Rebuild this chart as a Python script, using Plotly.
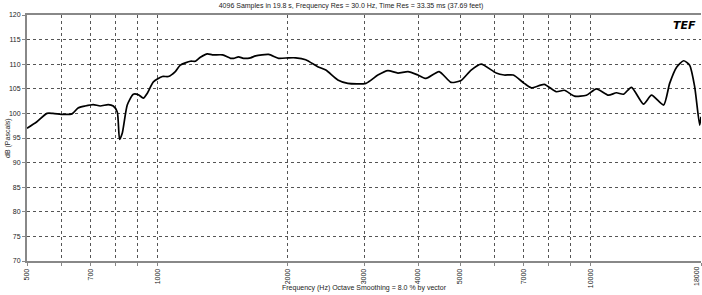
import plotly.graph_objects as go

freq_hz = [500, 527, 556, 574, 606, 635, 656, 681, 711, 738, 770, 791, 808, 818, 830, 852,
           880, 904, 928, 948, 979, 1027, 1060, 1100, 1130, 1192, 1224, 1257, 1305, 1340,
           1414, 1476, 1500, 1540, 1581, 1641, 1686, 1807, 1905, 2010, 2086, 2200, 2346,
           2449, 2610, 2753, 3030, 3230, 3406, 3593, 3790, 3997, 4171, 4472, 4766, 5027,
           5303, 5593, 6058, 6322, 6633, 7034, 7302, 7822, 8340, 8704, 9181, 9787, 10322,
           11003, 11481, 11918, 12437, 13260, 13837, 14756, 15236, 15811, 16413, 16945,
           17406, 17875, 18000]
level_db = [97.0, 98.3, 100.0, 100.0, 99.8, 99.9, 101.1, 101.5, 101.8, 101.5, 101.8, 101.5,
            100.3, 94.7, 96.0, 101.7, 103.9, 103.8, 103.1, 104.1, 106.4, 107.5, 107.5, 108.5,
            109.8, 110.6, 110.6, 111.4, 112.1, 111.9, 111.9, 111.2, 111.2, 111.5, 111.2,
            111.3, 111.7, 112.0, 111.2, 111.3, 111.3, 110.9, 109.5, 108.8, 106.8, 106.1,
            106.1, 107.8, 108.7, 108.2, 108.5, 107.8, 107.1, 108.5, 106.3, 106.7, 108.8,
            110.0, 108.2, 107.8, 107.8, 106.1, 105.2, 105.9, 104.4, 104.7, 103.5, 103.7,
            105.0, 103.7, 104.2, 103.9, 105.3, 101.9, 103.7, 101.7, 106.1, 109.4, 110.7,
            109.8, 105.4, 97.6, 99.3]

x_tick_vals = [500, 600, 700, 800, 900, 1000, 2000, 3000, 4000, 5000, 6000, 7000, 8000,
               9000, 10000, 18000]
x_tick_text = ["500", "", "700", "", "", "1000", "2000", "3000", "4000", "5000", "", "7000",
               "", "", "10000", "18000"]
y_tick_vals = [70, 75, 80, 85, 90, 95, 100, 105, 110, 115, 120]

title_text = "4096 Samples in 19.8 s, Frequency Res = 30.0 Hz, Time Res = 33.35 ms (37.69 feet)"
x_title = "Frequency (Hz) Octave Smoothing = 8.0 % by vector"
y_title = "dB (Pascals)"

FONT = "Liberation Sans, Arial, sans-serif"
TXT = "#222222"

fig = go.Figure()
fig.add_trace(go.Scatter(
    x=freq_hz, y=level_db, mode="lines",
    line=dict(color="#000000", width=1.7, shape="spline", smoothing=0.6),
    hoverinfo="skip", showlegend=False,
))

fig.update_layout(
    width=702, height=295,
    margin=dict(l=27, r=1, t=15, b=34, autoexpand=False),
    paper_bgcolor="white", plot_bgcolor="white",
    font=dict(family=FONT, size=7, color=TXT),
    title=dict(text=title_text, x=0.5, xanchor="center", y=0.99, yanchor="top",
               font=dict(family=FONT, size=7, color=TXT)),
    annotations=[
        dict(text=x_title, xref="paper", yref="paper", x=0.5, y=0, xanchor="center",
             yanchor="top", yshift=-21, showarrow=False,
             font=dict(family=FONT, size=7, color=TXT)),
        dict(text=y_title, xref="paper", yref="paper", x=0, y=0.5, xanchor="center",
             yanchor="middle", xshift=-19, textangle=-90, showarrow=False,
             font=dict(family=FONT, size=7, color=TXT)),
        dict(text="<b><i>TEF</i></b>", xref="paper", yref="paper", x=0.995, y=0.99,
             xanchor="right", yanchor="top", showarrow=False,
             font=dict(family="DejaVu Sans, sans-serif", size=11, color="#000000")),
        dict(text=x_tick_text[-1], x=4.25527, xref="x", yref="paper", y=0,
             xanchor="center", yanchor="top", yshift=-3, xshift=-5, textangle=-90,
             showarrow=False, font=dict(family=FONT, size=7, color=TXT)),
    ],
)

fig.update_xaxes(
    type="log", range=[2.69897, 4.25527], automargin=False,
    tickmode="array", tickvals=x_tick_vals, ticktext=x_tick_text, tickangle=-90,
    ticks="outside", ticklen=3, tickcolor="#888888",
    showgrid=True, gridcolor="#555555", griddash="dot", gridwidth=1,
    showline=True, linecolor="#888888", linewidth=2, mirror=True,
    zeroline=False, tickfont=dict(family=FONT, size=7, color=TXT),
)
fig.update_yaxes(
    range=[70, 120], tickmode="array", tickvals=y_tick_vals, automargin=False,
    ticks="outside", ticklen=3, tickcolor="#888888",
    showgrid=True, gridcolor="#555555", griddash="dot", gridwidth=1,
    showline=True, linecolor="#888888", linewidth=2,
    zeroline=False, tickfont=dict(family=FONT, size=7, color=TXT),
)

fig.write_html("out.html", config={"displayModeBar": False},
               post_script="document.body.style.margin='0';document.body.style.overflow='hidden';")
